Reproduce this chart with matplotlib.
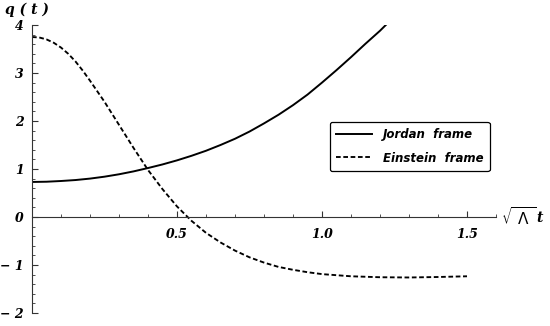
import matplotlib
matplotlib.use("Agg")
import matplotlib.pyplot as plt
from matplotlib.ticker import MultipleLocator, FixedLocator

# Jordan frame curve
jordan_x = [0, 0.05, 0.1, 0.15, 0.2, 0.25, 0.3, 0.35, 0.4, 0.45, 0.5, 0.55, 0.6,
            0.65, 0.7, 0.75, 0.8, 0.85, 0.9, 0.95, 1.0, 1.05, 1.1, 1.15, 1.2, 1.22]
jordan_q = [0.73, 0.735, 0.75, 0.77, 0.80, 0.84, 0.89, 0.95, 1.02, 1.095, 1.18, 1.275, 1.38,
            1.50, 1.63, 1.78, 1.95, 2.13, 2.33, 2.55, 2.80, 3.06, 3.33, 3.61, 3.88, 4.0]

# Einstein frame curve
einstein_x = [0, 0.025, 0.05, 0.075, 0.1, 0.125, 0.15, 0.175, 0.2, 0.25, 0.3, 0.35, 0.4,
              0.45, 0.5, 0.55, 0.6, 0.65, 0.7, 0.75, 0.8, 0.85, 0.9, 0.95, 1.0,
              1.1, 1.2, 1.3, 1.4, 1.5]
einstein_q = [3.75, 3.74, 3.70, 3.63, 3.53, 3.40, 3.24, 3.05, 2.84, 2.40, 1.92, 1.44, 0.98,
              0.58, 0.22, -0.08, -0.33, -0.53, -0.70, -0.84, -0.95, -1.04, -1.10, -1.15, -1.19,
              -1.235, -1.255, -1.26, -1.25, -1.235]

x_ticks = [0.5, 1.0, 1.5]
x_tick_labels = ["0.5", "1.0", "1.5"]
y_ticks = [-2, -1, 0, 1, 2, 3, 4]
y_tick_labels = ["\u2212 2", "\u2212 1", "0", "1", "2", "3", "4"]

tick_font = dict(family="DejaVu Serif", weight="bold", style="italic", size=9)

fig = plt.figure(figsize=(5.5, 3.26), dpi=100)
ax = fig.add_axes([32 / 550, 13 / 326, 464 / 550, 288 / 326])

ax.plot(jordan_x, jordan_q, color="black", lw=1.4, label="Jordan  frame")
ax.plot(einstein_x, einstein_q, color="black", lw=1.35, ls=(0, (2.5, 1.4)),
        label="Einstein  frame")

ax.set_xlim(0, 1.6)
ax.set_ylim(-2, 4)

for s in ["top", "right"]:
    ax.spines[s].set_visible(False)
ax.spines["left"].set_position(("data", 0))
ax.spines["bottom"].set_position(("data", 0))
ax.spines["left"].set_color("#333333")
ax.spines["bottom"].set_color("#333333")

ax.xaxis.set_major_locator(FixedLocator(x_ticks))
ax.xaxis.set_minor_locator(MultipleLocator(0.1))
ax.yaxis.set_major_locator(FixedLocator(y_ticks))
ax.yaxis.set_minor_locator(MultipleLocator(0.2))
ax.set_xticklabels(x_tick_labels, fontdict=tick_font)
ax.set_yticklabels(y_tick_labels, fontdict=tick_font)

ax.tick_params(axis="x", which="major", direction="in", length=4, width=0.8, pad=8, color="#333333")
ax.tick_params(axis="x", which="minor", direction="in", length=2.5, width=0.6, color="#333333")
ax.tick_params(axis="y", which="major", direction="in", length=4, width=0.8, pad=6, color="#333333")
ax.tick_params(axis="y", which="minor", direction="in", length=2.5, width=0.6, color="#333333")

# axis labels
fig.text(5 / 550, 1 - 10 / 326, "q ( t )",
         fontsize=10, fontweight="bold", style="italic", family="DejaVu Serif",
         ha="left", va="center")
fig.text(501 / 550, 1 - 217 / 326, r"$\sqrt{\ \Lambda\ }$", fontsize=11, ha="left", va="center")
fig.text(536 / 550, 1 - 218 / 326, "t", fontsize=10, fontweight="bold", style="italic",
         family="DejaVu Serif", ha="left", va="center")

leg = ax.legend(loc="upper left", bbox_to_anchor=((330 - 32) / 464, (313 - 122) / 288),
                borderaxespad=0, frameon=True, fancybox=True, handlelength=3.0,
                handletextpad=0.9, borderpad=0.55, labelspacing=0.85,
                prop=dict(family="DejaVu Sans", weight="bold", style="italic", size=8.5))
leg.get_frame().set_edgecolor("black")
leg.get_frame().set_linewidth(0.9)
leg.get_frame().set_alpha(1)

fig.savefig("out.png", dpi=100)
